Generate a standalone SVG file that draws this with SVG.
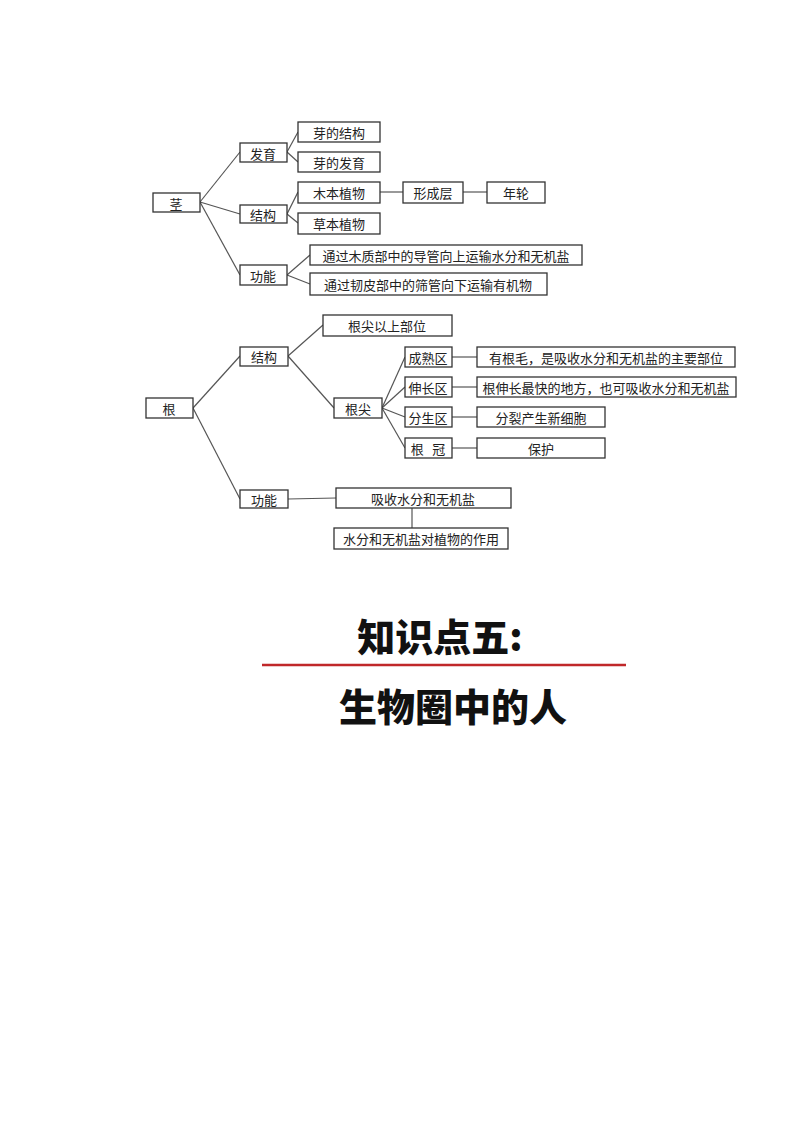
<svg xmlns="http://www.w3.org/2000/svg" width="800" height="1132" viewBox="0 0 800 1132">
<style>
rect{fill:#fff;stroke:#333;stroke-width:1.3}
text{font-family:"Noto Sans CJK SC",sans-serif;font-size:13px;fill:#222;text-anchor:middle;dominant-baseline:central}
#connectors line{stroke:#555;stroke-width:1.2}
.t{font-weight:900;font-size:38px;fill:#111}
</style>
<rect x="0" y="0" width="800" height="1132" style="fill:#fff;stroke:none"/>
<g id="connectors">
<line x1="200" y1="202" x2="240" y2="152"/><line x1="200" y1="202" x2="240" y2="214"/><line x1="200" y1="202" x2="240" y2="275"/>
<line x1="287" y1="152" x2="298" y2="132"/><line x1="287" y1="152" x2="298" y2="162"/>
<line x1="287" y1="214" x2="298" y2="192"/><line x1="287" y1="214" x2="298" y2="223"/>
<line x1="380" y1="192" x2="403" y2="192"/><line x1="463" y1="192" x2="487" y2="192"/>
<line x1="287" y1="275" x2="310" y2="255"/><line x1="287" y1="275" x2="310" y2="284"/>
<line x1="193" y1="408" x2="240" y2="356"/><line x1="193" y1="408" x2="240" y2="499"/>
<line x1="288" y1="356" x2="323" y2="325"/><line x1="288" y1="356" x2="334" y2="408"/>
<line x1="382" y1="408" x2="405" y2="357"/><line x1="382" y1="408" x2="405" y2="387"/><line x1="382" y1="408" x2="405" y2="417"/><line x1="382" y1="408" x2="405" y2="448"/>
<line x1="452" y1="357" x2="477" y2="357"/><line x1="452" y1="387" x2="477" y2="387"/><line x1="452" y1="417" x2="477" y2="417"/><line x1="452" y1="448" x2="477" y2="448"/>
<line x1="288" y1="499" x2="336" y2="498"/><line x1="412" y1="508" x2="412" y2="528"/>
</g>
<g id="n-jing"><rect x="153" y="193" width="47" height="19"/><text x="176" y="203">茎</text></g>
<g id="n-fayu"><rect x="240" y="143" width="47" height="19"/><text x="263" y="153">发育</text></g>
<g id="n-jiegou1"><rect x="240" y="205" width="47" height="18"/><text x="263" y="214">结构</text></g>
<g id="n-gongneng1"><rect x="240" y="265" width="47" height="20"/><text x="263" y="275">功能</text></g>
<g id="n-yajiegou"><rect x="298" y="122" width="82" height="20"/><text x="339" y="132">芽的结构</text></g>
<g id="n-yafayu"><rect x="298" y="152" width="82" height="20"/><text x="339" y="162">芽的发育</text></g>
<g id="n-muben"><rect x="298" y="182" width="82" height="21"/><text x="339" y="192">木本植物</text></g>
<g id="n-xingcheng"><rect x="403" y="182" width="60" height="21"/><text x="433" y="192">形成层</text></g>
<g id="n-nianlun"><rect x="487" y="182" width="58" height="21"/><text x="516" y="192">年轮</text></g>
<g id="n-caoben"><rect x="298" y="213" width="82" height="21"/><text x="339" y="223">草本植物</text></g>
<g id="n-muzhi"><rect x="310" y="245" width="272" height="20"/><text x="446" y="255">通过木质部中的导管向上运输水分和无机盐</text></g>
<g id="n-renpi"><rect x="310" y="273" width="237" height="22"/><text x="428" y="284">通过韧皮部中的筛管向下运输有机物</text></g>
<g id="n-gen"><rect x="146" y="398" width="47" height="20"/><text x="169" y="408">根</text></g>
<g id="n-jiegou2"><rect x="240" y="347" width="48" height="19"/><text x="264" y="356">结构</text></g>
<g id="n-gongneng2"><rect x="240" y="490" width="48" height="18"/><text x="264" y="499">功能</text></g>
<g id="n-yishang"><rect x="323" y="315" width="129" height="21"/><text x="387" y="325">根尖以上部位</text></g>
<g id="n-genjian"><rect x="334" y="398" width="48" height="20"/><text x="358" y="408">根尖</text></g>
<g id="n-chengshu"><rect x="405" y="347" width="47" height="20"/><text x="428" y="357">成熟区</text></g>
<g id="n-shenchang"><rect x="405" y="377" width="47" height="20"/><text x="428" y="387">伸长区</text></g>
<g id="n-fensheng"><rect x="405" y="407" width="47" height="20"/><text x="428" y="417">分生区</text></g>
<g id="n-genguan"><rect x="405" y="438" width="47" height="20"/><text x="428" y="448" xml:space="preserve">根   冠</text></g>
<g id="n-genmao"><rect x="477" y="347" width="258" height="20"/><text x="606" y="357">有根毛，是吸收水分和无机盐的主要部位</text></g>
<g id="n-zuikuai"><rect x="477" y="377" width="259" height="20"/><text x="606" y="387">根伸长最快的地方，也可吸收水分和无机盐</text></g>
<g id="n-fenlie"><rect x="477" y="407" width="128" height="20"/><text x="541" y="417">分裂产生新细胞</text></g>
<g id="n-baohu"><rect x="477" y="438" width="128" height="20"/><text x="541" y="448">保护</text></g>
<g id="n-xishou"><rect x="336" y="488" width="175" height="20"/><text x="423" y="498">吸收水分和无机盐</text></g>
<g id="n-zuoyong"><rect x="334" y="528" width="174" height="21"/><text x="421" y="538">水分和无机盐对植物的作用</text></g>
<text class="t" x="440" y="634">知识点五:</text>
<line x1="262" y1="665" x2="626" y2="665" stroke="#c0282a" stroke-width="2.5"/>
<text class="t" x="453" y="704">生物圈中的人</text>
</svg>
